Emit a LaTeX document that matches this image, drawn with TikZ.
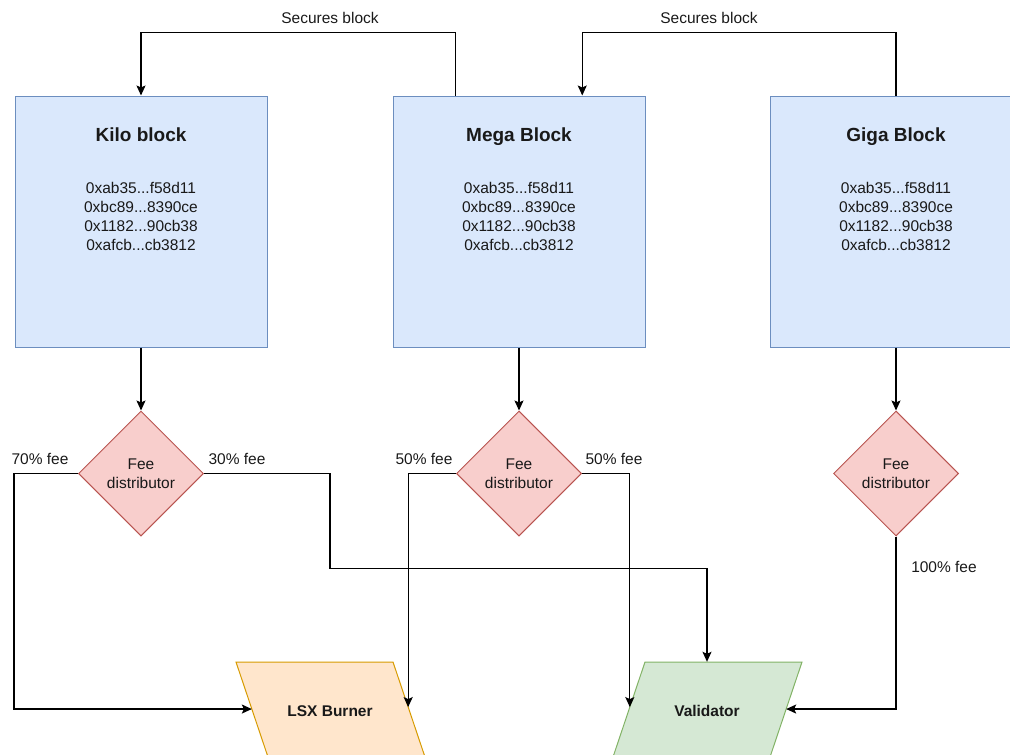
\documentclass[tikz,border=0pt]{standalone}
\usepackage{fontspec}
\setmainfont{Liberation Sans}
\usetikzlibrary{shapes.geometric,arrows.meta,calc}
\definecolor{blueF}{HTML}{DAE8FC}
\definecolor{blueS}{HTML}{6C8EBF}
\definecolor{redF}{HTML}{F8CECC}
\definecolor{redS}{HTML}{B85450}
\definecolor{orangeF}{HTML}{FFE6CC}
\definecolor{orangeS}{HTML}{D79B00}
\definecolor{greenF}{HTML}{D5E8D4}
\definecolor{greenS}{HTML}{82B366}
\tikzset{
  txt/.style={font=\fontsize{15.5}{19}\selectfont, inner sep=0pt, align=center, text=black!90},
  ttl/.style={font=\fontsize{19}{23}\selectfont\bfseries, inner sep=0pt, text=black!90, anchor=base},
  blockbox/.style={rectangle, draw=blueS, fill=blueF, line width=1pt, minimum width=252pt, minimum height=251pt, inner sep=0pt},
  feebox/.style={diamond, aspect=1, draw=redS, fill=redF, line width=1pt, minimum width=125pt, minimum height=125pt, inner sep=0pt, font=\fontsize{15.5}{19}\selectfont, align=center, text=black!90},
  paratext/.style={rectangle, minimum width=157pt, minimum height=98pt, inner sep=0pt, font=\fontsize{15.5}{19}\selectfont\bfseries, text=black!90},
  parashape/.style={line width=1pt, line join=miter},
  arr/.style={line width=1.3pt, -{Stealth[length=10pt,width=9pt,inset=2pt]}},
}
\begin{document}
\begin{tikzpicture}[x=1pt,y=-1pt]
\useasboundingbox (0,0) rectangle (1010,755);
\clip (0,0) rectangle (1010,755);

% blocks
\node[blockbox] (kilo) at (141,221.5) {};
\node[blockbox] (mega) at (519,221.5) {};
\node[blockbox] (giga) at (896,221.5) {};
\node[ttl] (kiloT) at (141,141.5) {Kilo block};
\node[ttl] (megaT) at (519,141.5) {Mega Block};
\node[ttl] (gigaT) at (896,141.5) {Giga Block};
\node[txt] (kiloH) at (141,216) {0xab35...f58d11\\0xbc89...8390ce\\0x1182...90cb38\\0xafcb...cb3812};
\node[txt] (megaH) at (519,216) {0xab35...f58d11\\0xbc89...8390ce\\0x1182...90cb38\\0xafcb...cb3812};
\node[txt] (gigaH) at (896,216) {0xab35...f58d11\\0xbc89...8390ce\\0x1182...90cb38\\0xafcb...cb3812};

% fee distributors
\node[feebox] (kd) at (141,473.5) {Fee\\distributor};
\node[feebox] (md) at (519,473.5) {Fee\\distributor};
\node[feebox] (gd) at (896,473.5) {Fee\\distributor};

% sinks (parallelograms)
\coordinate (lsxTL) at (236,662);
\coordinate (lsxTR) at (393,662);
\coordinate (lsxBR) at (426,760);
\coordinate (lsxBL) at (269,760);
\coordinate (valTL) at (645,662);
\coordinate (valTR) at (802,662);
\coordinate (valBR) at (769,760);
\coordinate (valBL) at (612,760);
\filldraw[parashape, draw=orangeS, fill=orangeF] (lsxTL) -- (lsxTR) -- (lsxBR) -- (lsxBL) -- cycle;
\filldraw[parashape, draw=greenS, fill=greenF] (valTL) -- (valTR) -- (valBR) -- (valBL) -- cycle;
\node[paratext] (lsx) at (330,711) {LSX Burner};
\node[paratext] (val) at (707,711) {Validator};

% anchor points
\coordinate (mA) at ($(mega.north west)!0.25!(mega.north east)$);
\coordinate (mB) at ($(mega.north west)!0.75!(mega.north east)$);
\coordinate (lsxL) at ($(lsxTL)!0.48!(lsxBL)$);
\coordinate (lsxR) at ($(lsxTR)!0.46!(lsxBR)$);
\coordinate (valL) at ($(valTL)!0.46!(valBL)$);
\coordinate (valR) at ($(valTR)!0.48!(valBR)$);

% secures block
\draw[arr] (mA) -- ++(0,-63) -| (kilo.north);
\draw[arr] (giga.north) -- ++(0,-63) -| (mB);
\node[txt] (sec1) at (330,18) {Secures block};
\node[txt] (sec2) at (709,18) {Secures block};

% block -> distributor
\draw[arr] (kilo.south) -- (kd.north);
\draw[arr] (mega.south) -- (md.north);
\draw[arr] (giga.south) -- (gd.north);

% fee flows
\draw[arr] (kd.west) -- ++(-64,0) |- (lsxL);
\draw[arr] (kd.east) -- ++(126,0) -- ++(0,95) -| (val.north);
\draw[arr] (md.west) -| (lsxR);
\draw[arr] (md.east) -| (valL);
\draw[arr] (gd.south) |- (valR);

% labels
\node[txt] (l70) at (40,459) {70\% fee};
\node[txt] (l30) at (237,459) {30\% fee};
\node[txt] (l50a) at (424,459) {50\% fee};
\node[txt] (l50b) at (614,459) {50\% fee};
\node[txt] (l100) at (944,567) {100\% fee};
\end{tikzpicture}
\end{document}
